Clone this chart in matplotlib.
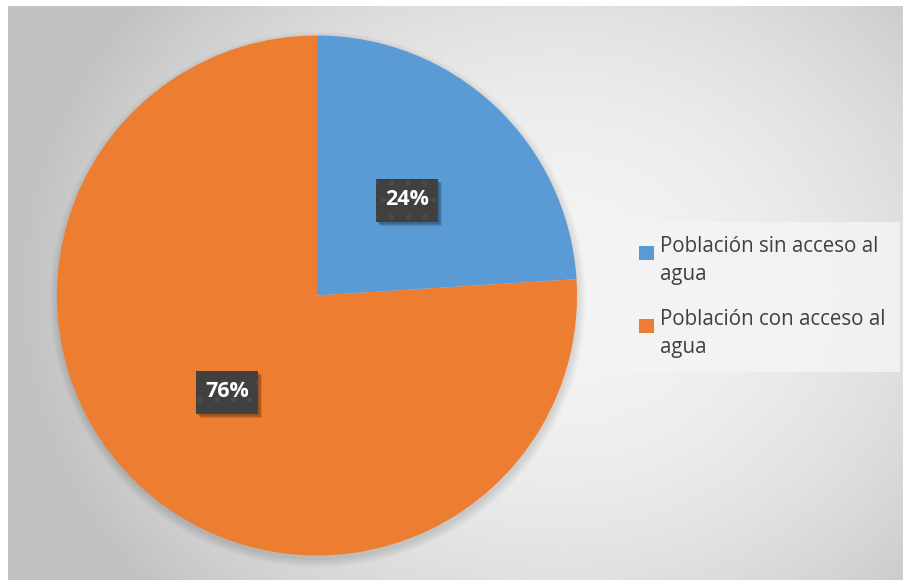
import numpy as np
import matplotlib
matplotlib.use("Agg")
import matplotlib.pyplot as plt
from matplotlib.patches import Rectangle
from matplotlib.legend_handler import HandlerPatch

# ── Data ──────────────────────────────────────────────────────────────────────
categories = ["Población sin acceso al\nagua", "Población con acceso al\nagua"]
shares = [24, 76]
colors = ["#5B9BD5", "#ED7D31"]

W, H = 904, 580

plt.rcParams["font.family"] = ["Open Sans", "DejaVu Sans"]
plt.rcParams["hatch.linewidth"] = 1.2

fig = plt.figure(figsize=(W / 100, H / 100), dpi=100)
fig.patch.set_facecolor("white")

# pixel-coordinate axes (y measured up from the bottom)
ax = fig.add_axes([0, 0, 1, 1])
ax.set_xlim(0, W)
ax.set_ylim(0, H)
ax.set_aspect("equal")
ax.axis("off")

# ── Chart area background: soft radial gradient ──────────────────────────────
x0, x1, ytop = 8, W, H - 6
xx, yy = np.meshgrid(np.linspace(x0, x1, 400), np.linspace(0, ytop, 300))
cx, cy = 560, 290
r = np.sqrt(((xx - cx) / 560) ** 2 + ((yy - cy) / 480) ** 2)
shade = np.clip(0.955 - 0.21 * r ** 2, 0.76, 1)
ax.imshow(shade, cmap="gray", vmin=0, vmax=1, extent=[x0, x1, 0, ytop],
          origin="lower", zorder=0, interpolation="bicubic")

# ── Pie ───────────────────────────────────────────────────────────────────────
center = (317, H - 295.5)
radius = 260

# soft drop shadow under the pie
for i in range(10):
    ax.add_patch(plt.Circle((center[0] + 1, center[1] - 4), radius + 8 - i * 0.9,
                            color="black", alpha=0.012, lw=0, zorder=1))

wedges, _, autotexts = ax.pie(
    shares, colors=colors, center=center, radius=radius,
    startangle=90, counterclock=False,
    autopct=lambda p: f"{p:.0f}%", pctdistance=0.505,
    wedgeprops=dict(linewidth=0), textprops=dict(zorder=5),
)
for w in wedges:
    w.set_zorder(2)

# dark label boxes with a small drop shadow
box_w, box_h = 62, 43
for t in autotexts:
    t.set_color("white")
    t.set_fontsize(15.5)
    t.set_fontweight("bold")
    t.set_zorder(7)
    tx, ty = t.get_position()
    bx, by = tx - box_w / 2, ty - box_h / 2 - 1
    for k in range(3):
        ax.add_patch(Rectangle((bx + 2 + k, by - 2 - k), box_w, box_h,
                               facecolor="black", alpha=0.12, linewidth=0,
                               zorder=5))
    ax.add_patch(Rectangle((bx, by), box_w, box_h,
                           facecolor="#404040", edgecolor="#4c4c4c",
                           linewidth=0, hatch=".", zorder=6))

ax.set_xlim(0, W)
ax.set_ylim(0, H)


# ── Legend ────────────────────────────────────────────────────────────────────
def top_square(legend, orig_handle, xdescent, ydescent, width, height, fontsize):
    # keep the marker level with the first line of a wrapped label
    return Rectangle((-xdescent, -ydescent + 0.42 * fontsize), width, height)


leg = ax.legend(
    wedges, categories, loc="upper left",
    bbox_to_anchor=(625 / W, 1 - 222 / H), bbox_transform=fig.transFigure,
    frameon=True, fancybox=False, fontsize=14.8,
    handlelength=0.7, handleheight=0.7, handletextpad=0.3,
    labelspacing=1.2, borderpad=0.7, borderaxespad=0,
    labelcolor="#404040",
    handler_map={w: HandlerPatch(patch_func=top_square) for w in wedges},
)
for t in leg.get_texts():
    t.set_linespacing(1.4)
leg.get_frame().set_facecolor("#f4f4f4")
leg.get_frame().set_alpha(0.85)
leg.get_frame().set_linewidth(0)
leg.set_zorder(8)

fig.savefig("out.png", dpi=100)
